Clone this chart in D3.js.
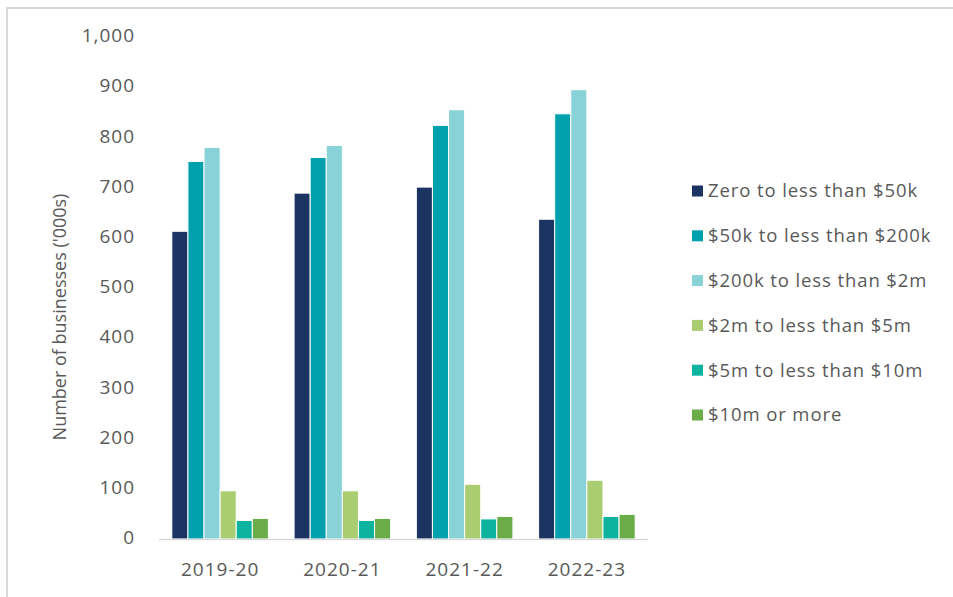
<!DOCTYPE html>
<html><head><meta charset="utf-8">
<script src="https://cdn.jsdelivr.net/npm/d3@7"></script>
<style>body{margin:0;background:#fff;} svg{display:block;}</style>
</head><body>
<svg id="chart" width="953" height="597"></svg>
<script>
const categories = ["2019-20", "2020-21", "2021-22", "2022-23"];
const seriesNames = ["Zero to less than $50k", "$50k to less than $200k", "$200k to less than $2m", "$2m to less than $5m", "$5m to less than $10m", "$10m or more"];
const zeroTo50k = [613, 689, 701, 637];
const k50To200k = [752, 760, 824, 847];
const k200To2m = [780, 784, 855, 895];
const m2To5m = [96, 96, 109, 117];
const m5To10m = [37, 37, 40, 45];
const m10Plus = [41, 41, 45, 49];
const yTicks = [0, 100, 200, 300, 400, 500, 600, 700, 800, 900, 1000];
const colors = ["#1B3461", "#00A0AD", "#88D2D8", "#ABCD72", "#0DB39E", "#6AAC48"];
const seriesValues = [zeroTo50k, k50To200k, k200To2m, m2To5m, m5To10m, m10Plus];

const svg = d3.select("#chart");
const font = "'Open Sans', sans-serif";
const textColor = "#595959";

// frame
svg.append("path").attr("d", "M7,597 V8 H953").attr("fill", "none").attr("stroke", "#d9d9d9").attr("stroke-width", 2);

const x0 = d3.scaleBand().domain(categories).range([159, 648]).paddingInner(0.21).paddingOuter(0.105);
const x1 = d3.scaleBand().domain(d3.range(seriesNames.length)).range([0, x0.bandwidth()]).padding(0);
const y = d3.scaleLinear().domain([0, 1000]).range([539, 37]);

// bars
categories.forEach((c, ci) => {
  const g = svg.append("g").attr("transform", `translate(${x0(c)},0)`);
  g.selectAll("rect").data(seriesValues.map((s, si) => ({si, v: s[ci]})))
    .enter().append("rect")
    .attr("x", d => x1(d.si))
    .attr("width", x1.bandwidth())
    .attr("y", d => y(d.v))
    .attr("height", d => y(0) - y(d.v))
    .attr("fill", d => colors[d.si])
    .attr("stroke", "#fff").attr("stroke-width", 1);
});

// x axis line
svg.append("line").attr("x1", 159).attr("x2", 648).attr("y1", y(0) + 0.5).attr("y2", y(0) + 0.5)
  .attr("stroke", "#d9d9d9").attr("stroke-width", 1.5);

// y axis tick labels
const yAxis = d3.axisLeft(y).tickValues(yTicks).tickSize(0).tickPadding(0).tickFormat(d3.format(","));
const yg = svg.append("g").attr("transform", "translate(135,0)").call(yAxis);
yg.select(".domain").remove();
yg.selectAll("text").attr("font-family", font).attr("font-size", 19).attr("letter-spacing", 1)
  .attr("fill", textColor).attr("dy", "0.25em");

// x axis labels
const xAxis = d3.axisBottom(x0).tickSize(0).tickPadding(0);
const xg = svg.append("g").attr("transform", `translate(0,569)`).call(xAxis);
xg.select(".domain").remove();
xg.selectAll("text").attr("font-family", font).attr("font-size", 19).attr("letter-spacing", 1)
  .attr("fill", textColor).attr("dy", "0.35em");

// y title
svg.append("text").attr("transform", "translate(60,317) rotate(-90)")
  .attr("text-anchor", "middle").attr("dy", "0.35em")
  .attr("font-family", font).attr("font-size", 18).attr("fill", textColor)
  .text("Number of businesses ('000s)");

// legend
const legendY = d3.scalePoint().domain(d3.range(seriesNames.length)).range([191, 415]);
const lg = svg.append("g");
seriesNames.forEach((n, i) => {
  lg.append("rect").attr("x", 692).attr("y", legendY(i) - 5.5).attr("width", 11).attr("height", 11).attr("fill", colors[i]);
  lg.append("text").attr("x", 708).attr("y", legendY(i)).attr("dy", "0.35em")
    .attr("font-family", font).attr("font-size", 18.5).attr("letter-spacing", 0.9).attr("fill", textColor).text(n);
});
</script>
</body></html>
